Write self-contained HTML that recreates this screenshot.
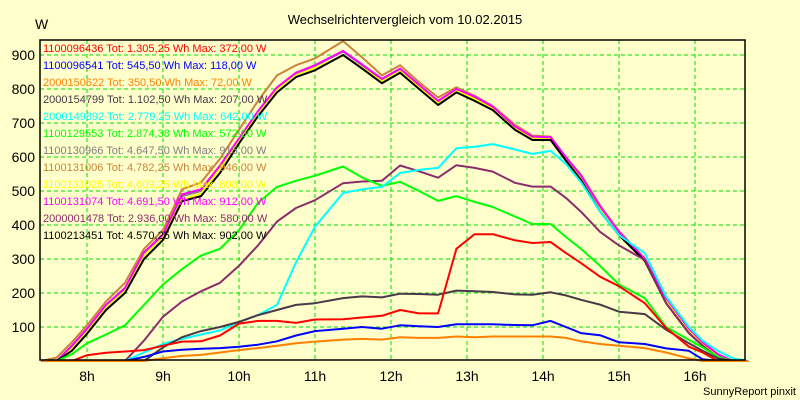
<!DOCTYPE html>
<html><head><meta charset="utf-8"><style>
body{margin:0;background:#FFFFCC;}
svg{display:block;font-family:"Liberation Sans",Arial,sans-serif;}
</style></head><body>
<svg id="chart" width="800" height="400" viewBox="0 0 800 400">
<rect x="0" y="0" width="800" height="400" fill="#FFFFCC"/>
<text x="405" y="24" text-anchor="middle" font-size="13" fill="#000">Wechselrichtervergleich vom 10.02.2015</text>
<text x="35" y="29" font-size="14" fill="#000">W</text>
<text x="796" y="395" text-anchor="end" font-size="11" fill="#000">SunnyReport pinxit</text>
<g id="grid"></g>
<g id="axes"></g>
<g id="series"></g>
<g id="legend"></g>
<rect x="40" y="40" width="705" height="320" fill="none" stroke="#000" stroke-width="1.5"/>
</svg>
<script>
const times=[7.4,7.6,7.8,8,8.25,8.5,8.75,9,9.25,9.5,9.75,10,10.25,10.5,10.75,11,11.37,11.62,11.88,12.12,12.37,12.62,12.86,13.1,13.34,13.63,13.86,14.1,14.3,14.5,14.75,15,15.34,15.62,15.92,16.1,16.3,16.5,16.7];
const yTicks=[100,200,300,400,500,600,700,800,900];
const xTicks=[8,9,10,11,12,13,14,15,16];
const xTickLabels=["8h","9h","10h","11h","12h","13h","14h","15h","16h"];
const seriesNames=["1100096436 Tot: 1.305,25 Wh Max: 372,00 W","1100096541 Tot: 545,50 Wh Max: 118,00 W","2000150622 Tot: 350,50 Wh Max: 72,00 W","2000154799 Tot: 1.102,50 Wh Max: 207,00 W","2000149892 Tot: 2.779,25 Wh Max: 642,00 W","1100129553 Tot: 2.874,38 Wh Max: 572,00 W","1100130966 Tot: 4.647,50 Wh Max: 915,00 W","1100131006 Tot: 4.782,25 Wh Max: 946,00 W","1100131025 Tot: 4.609,25 Wh Max: 898,00 W","1100131074 Tot: 4.691,50 Wh Max: 912,00 W","2000001478 Tot: 2.936,00 Wh Max: 580,00 W","1100213451 Tot: 4.570,25 Wh Max: 902,00 W"];
const seriesColors=["#ff0000","#0000ff","#ff8000","#4a3848","#00ffff","#00ff00","#808080","#c8843c","#ffff00","#ff00ff","#8b2d6b","#000000"];
const red=[0,0,0,17,24,28,32,45,57,58,75,110,118,118,112,122,123,128,133,150,140,140,330,373,373,355,347,350,318,288,248,220,170,97,42,25,0,0,0];
const blue=[0,0,0,0,0,0,12,28,33,36,38,42,48,58,75,88,95,100,95,105,102,100,108,108,108,106,105,118,100,82,76,55,50,37,30,5,0,0,0];
const orange=[0,0,0,0,0,0,0,8,15,18,25,32,38,45,52,57,63,65,63,70,68,68,72,70,72,72,72,72,68,58,50,45,38,25,8,0,0,0,0];
const darkgray=[0,0,0,0,0,0,0,40,70,88,100,115,135,150,165,170,185,190,187,198,197,195,207,205,203,196,195,202,193,180,166,145,138,92,52,30,8,0,0];
const cyan=[0,0,0,0,0,0,25,50,65,78,90,115,135,165,290,395,494,505,512,553,562,568,626,630,638,622,609,618,580,526,440,370,317,190,100,60,30,8,0];
const green=[0,0,20,52,78,105,165,225,270,310,330,385,465,512,530,545,572,540,515,527,500,471,485,468,453,425,403,403,365,330,280,225,185,100,62,40,12,0,0];
const gray=[0,0,40,90,160,210,315,368,485,500,570,652,732,802,845,868,910,870,828,858,810,762,798,775,745,688,658,656,598,543,452,378,298,180,90,52,18,0,0];
const brown=[0,10,55,105,175,230,330,385,505,525,595,680,765,840,870,890,941,893,840,870,820,775,805,780,750,695,663,660,600,548,458,382,302,185,95,55,20,0,0];
const yellow=[0,0,35,85,158,205,310,362,475,492,565,648,728,798,840,862,898,862,822,852,805,758,795,770,742,685,655,652,595,540,450,375,298,178,88,50,15,0,0];
const magenta=[0,0,45,95,165,215,320,372,490,505,575,655,735,805,848,870,912,872,830,860,812,765,800,778,748,690,660,658,600,545,455,380,300,185,95,55,20,0,0];
const purple=[0,0,0,0,0,0,60,130,175,205,230,280,340,410,450,473,523,528,530,575,558,539,576,568,557,524,513,513,480,439,380,340,297,170,82,45,10,0,0];
const black=[0,0,30,80,150,200,300,356,470,485,553,640,720,790,835,855,900,860,817,848,800,753,790,765,738,680,650,650,590,532,440,370,294,170,82,45,10,0,0];
const seriesValues=[red,blue,orange,darkgray,cyan,green,gray,brown,yellow,magenta,purple,black];
const drawOrder=[7,6,8,9,11,10,5,4,3,0,1,2];

const NS="http://www.w3.org/2000/svg";
const PL=40,PR=745,PT=40,PB=360;
function xs(t){return 87+(t-8)*76;}
function ys(v){return 361-v*0.34;}
function mk(tag,attrs,parent){const e=document.createElementNS(NS,tag);for(const k in attrs)e.setAttribute(k,attrs[k]);parent.appendChild(e);return e;}
const grid=document.getElementById('grid'),axes=document.getElementById('axes'),ser=document.getElementById('series'),leg=document.getElementById('legend');
yTicks.forEach(v=>{
  const l=mk('line',{x1:PL,x2:PR,y1:ys(v),y2:ys(v),stroke:'#00dd00','stroke-dasharray':'4,3','stroke-width':1},grid);
  
  
  const t=mk('text',{x:35,y:ys(v)+5,'text-anchor':'end','font-size':14,fill:'#000'},axes);
  t.textContent=v;
  
  
});
xTicks.forEach((h,i)=>{
  const l=mk('line',{x1:xs(h),x2:xs(h),y1:PT,y2:PB,stroke:'#00dd00','stroke-dasharray':'4,3','stroke-width':1},grid);
  
  
  const t=mk('text',{x:xs(h),y:381,'text-anchor':'middle','font-size':14,fill:'#000'},axes);
  t.textContent=xTickLabels[i];
  
  
});
drawOrder.forEach(si=>{
  const pts=times.map((t,i)=>xs(t).toFixed(1)+','+ys(seriesValues[si][i]).toFixed(1)).join(' ');
  const p=mk('polyline',{points:pts,fill:'none',stroke:seriesColors[si],'stroke-width':2,'stroke-linejoin':'round'},ser);
  
  
});
seriesNames.forEach((n,i)=>{
  const t=mk('text',{x:43,y:52+i*17,'font-size':11,fill:seriesColors[i]},leg);
  t.textContent=n;
  
  
});
</script>
</body></html>
